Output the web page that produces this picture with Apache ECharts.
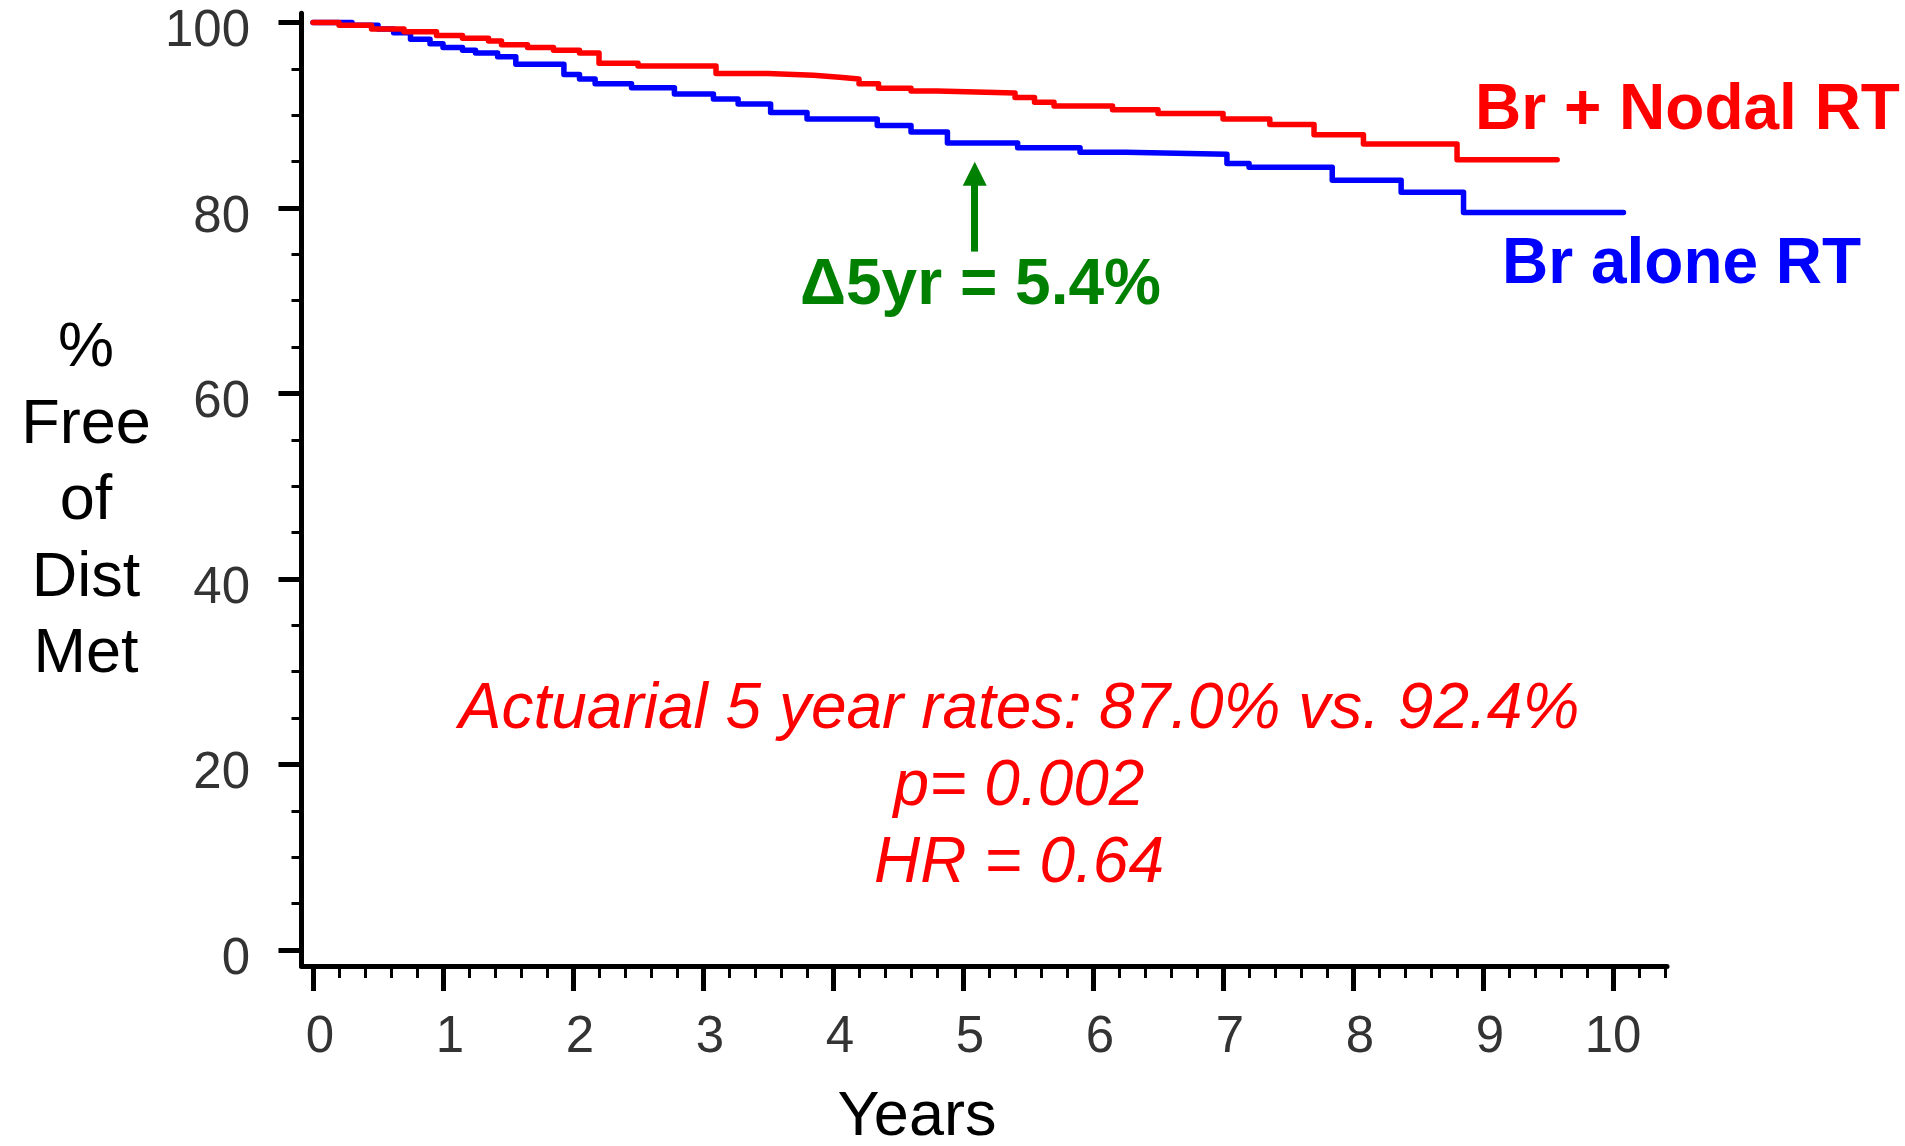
<!DOCTYPE html>
<html>
<head>
<meta charset="utf-8">
<script src="https://cdn.jsdelivr.net/npm/echarts@6/dist/echarts.min.js"></script>
<style>
  html, body { margin: 0; padding: 0; background: #fff; }
  #chart { width: 1905px; height: 1146px; }
</style>
</head>
<body>
<div id="chart"></div>
<script>
// ---- data ----
const xTicks = [0, 1, 2, 3, 4, 5, 6, 7, 8, 9, 10];
const yTicks = [0, 20, 40, 60, 80, 100];
// axis extents (the frame runs slightly past 0..10 and 0..100)
const xMin = -0.0885, xMax = 10.415;
const yMin = -1.725, yMax = 100.99;

// Br + Nodal RT (red) : event times (years) and % free of distant metastasis
const nodalYears = [0, 0.2, 0.45, 0.7, 0.95, 1.15, 1.35, 1.45, 1.65, 1.85, 2.05, 2.2, 2.5, 3.1, 3.5, 3.85, 4.05, 4.2, 4.35, 4.6, 4.8, 5.4, 5.55, 5.7, 6.15, 6.5, 7.0, 7.36, 7.7, 8.08, 8.8, 9.57];
const nodalFree  = [100, 99.7, 99.3, 99.0, 98.6, 98.3, 98.0, 97.6, 97.3, 97.0, 96.7, 95.6, 95.3, 94.5, 94.3, 94.1, 93.9, 93.4, 92.9, 92.6, 92.4, 91.9, 91.4, 91.0, 90.6, 90.2, 89.6, 89.0, 87.9, 86.9, 85.2, 85.2];

// Br alone RT (blue)
const aloneYears = [0, 0.3, 0.5, 0.62, 0.75, 0.9, 1.0, 1.15, 1.25, 1.42, 1.56, 1.93, 2.05, 2.17, 2.45, 2.78, 3.08, 3.27, 3.52, 3.8, 4.34, 4.6, 4.88, 5.42, 5.9, 6.25, 7.03, 7.2, 7.84, 8.37, 8.85, 10.08];
const aloneFree  = [100, 99.7, 99.3, 98.9, 98.2, 97.7, 97.3, 97.0, 96.7, 96.3, 95.5, 94.4, 93.9, 93.4, 92.95, 92.3, 91.75, 91.2, 90.3, 89.6, 88.9, 88.2, 87.0, 86.5, 86.0, 85.8, 84.8, 84.4, 83.0, 81.7, 79.5, 79.5];

// arrow annotation (data coordinates)
const arrowYear = 5.09;
const arrowFrom = 75.3;
const arrowTo = 83.7;

// minor tick positions
const xMinor = [];
for (let i = 0; i <= 52; i++) { if (i % 5 !== 0) xMinor.push(+(i * 0.2).toFixed(1)); }
const yMinor = [];
for (let v = 5; v < 100; v += 5) { if (v % 20 !== 0) yMinor.push(v); }

// ---- chart ----
const FONT = "'Liberation Sans', Arial, Helvetica, sans-serif";
const pairs = (xs, ys) => xs.map((x, i) => [x, ys[i]]);

const chart = echarts.init(document.getElementById('chart'), null, { renderer: 'canvas' });

const tickLabelStyle = { fontFamily: FONT, fontSize: 51, color: '#333' };
const hiddenBits = { splitLine: { show: false }, minorTick: { show: false }, minorSplitLine: { show: false } };

const option = {
  animation: false,
  backgroundColor: '#ffffff',
  grid: [
    { left: 301.5, right: 238, top: 13.3, bottom: 180, containLabel: false, outerBoundsMode: 'none' }
  ],
  xAxis: [
    Object.assign({
      gridIndex: 0, type: 'value', min: xMin, max: xMax, position: 'bottom',
      axisLine: { show: true, onZero: false, lineStyle: { color: '#000', width: 5 } },
      axisTick: { show: true, inside: false, customValues: xTicks, length: 25, lineStyle: { color: '#000', width: 5 } },
      axisLabel: {
        show: true, inside: false, margin: 46, customValues: xTicks,
        formatter: v => (v < 10 ? '{s|' + v + '}' : '{t|' + v + '}'),
        rich: {
          s: Object.assign({ padding: [0, 0, 0, 14] }, tickLabelStyle),
          t: Object.assign({}, tickLabelStyle)
        }
      }
    }, hiddenBits),
    Object.assign({
      gridIndex: 0, type: 'value', min: xMin, max: xMax, position: 'bottom',
      axisLine: { show: false, onZero: false },
      axisTick: { show: true, inside: false, customValues: xMinor, length: 12, lineStyle: { color: '#000', width: 3 } },
      axisLabel: { show: false }
    }, hiddenBits)
  ],
  yAxis: [
    Object.assign({
      gridIndex: 0, type: 'value', min: yMin, max: yMax, position: 'left',
      axisLine: { show: true, onZero: false, lineStyle: { color: '#000', width: 5 } },
      axisTick: { show: true, inside: false, customValues: yTicks, length: 23, lineStyle: { color: '#000', width: 5 } },
      axisLabel: Object.assign({ show: true, inside: false, margin: 51.5, customValues: yTicks, verticalAlign: 'top', lineHeight: 19 }, tickLabelStyle)
    }, hiddenBits),
    Object.assign({
      gridIndex: 0, type: 'value', min: yMin, max: yMax, position: 'left',
      axisLine: { show: false, onZero: false },
      axisTick: { show: true, inside: false, customValues: yMinor, length: 10, lineStyle: { color: '#000', width: 3 } },
      axisLabel: { show: false }
    }, hiddenBits)
  ],
  series: [
    {
      name: 'Br alone RT', type: 'line', xAxisIndex: 0, yAxisIndex: 0,
      step: 'end', showSymbol: false, symbol: 'none', clip: false,
      data: pairs(aloneYears, aloneFree),
      lineStyle: { color: '#0000ff', width: 5.5, cap: 'round', join: 'round' },
      itemStyle: { color: '#0000ff' },
      z: 3,
      markLine: {
        silent: true, animation: false,
        symbol: ['none', 'triangle'], symbolSize: [24, 24],
        label: { show: false },
        lineStyle: { color: '#008000', width: 7, type: 'solid' },
        itemStyle: { color: '#008000' },
        data: [[{ coord: [arrowYear, arrowFrom] }, { coord: [arrowYear, arrowTo] }]]
      }
    },
    {
      name: 'Br + Nodal RT', type: 'line', xAxisIndex: 0, yAxisIndex: 0,
      step: 'end', showSymbol: false, symbol: 'none', clip: false,
      data: pairs(nodalYears, nodalFree),
      lineStyle: { color: '#ff0000', width: 5.5, cap: 'round', join: 'round' },
      itemStyle: { color: '#ff0000' },
      z: 4
    }
  ],
  graphic: [
    { type: 'text', x: 1475, y: 111, silent: true,
      style: { text: 'Br + Nodal RT', fill: '#ff0000', font: 'bold 64px ' + FONT, textAlign: 'left', textVerticalAlign: 'middle' } },
    { type: 'text', x: 1502, y: 265.5, silent: true,
      style: { text: 'Br alone RT', fill: '#0000ff', font: 'bold 64px ' + FONT, textAlign: 'left', textVerticalAlign: 'middle' } },
    { type: 'text', x: 800, y: 286, silent: true,
      style: { text: 'Δ5yr = 5.4%', fill: '#008000', font: 'bold 64px ' + FONT, textAlign: 'left', textVerticalAlign: 'middle' } },
    { type: 'text', x: 1019, y: 710, silent: true,
      style: { text: 'Actuarial 5 year rates: 87.0% vs. 92.4%', fill: '#ff0000', font: 'italic 64px ' + FONT, textAlign: 'center', textVerticalAlign: 'middle' } },
    { type: 'text', x: 1019, y: 787, silent: true,
      style: { text: 'p= 0.002', fill: '#ff0000', font: 'italic 64px ' + FONT, textAlign: 'center', textVerticalAlign: 'middle' } },
    { type: 'text', x: 1019, y: 864, silent: true,
      style: { text: 'HR = 0.64', fill: '#ff0000', font: 'italic 64px ' + FONT, textAlign: 'center', textVerticalAlign: 'middle' } },
    { type: 'text', x: 86, y: 502, silent: true,
      style: { text: '%\nFree\nof\nDist\nMet', fill: '#000', font: '63px ' + FONT, lineHeight: 76.5, textAlign: 'center', textVerticalAlign: 'middle' } },
    { type: 'text', x: 917, y: 1117.5, silent: true,
      style: { text: 'Years', fill: '#000', font: '63px ' + FONT, textAlign: 'center', textVerticalAlign: 'middle' } }
  ]
};

chart.setOption(option);
</script>
</body>
</html>
